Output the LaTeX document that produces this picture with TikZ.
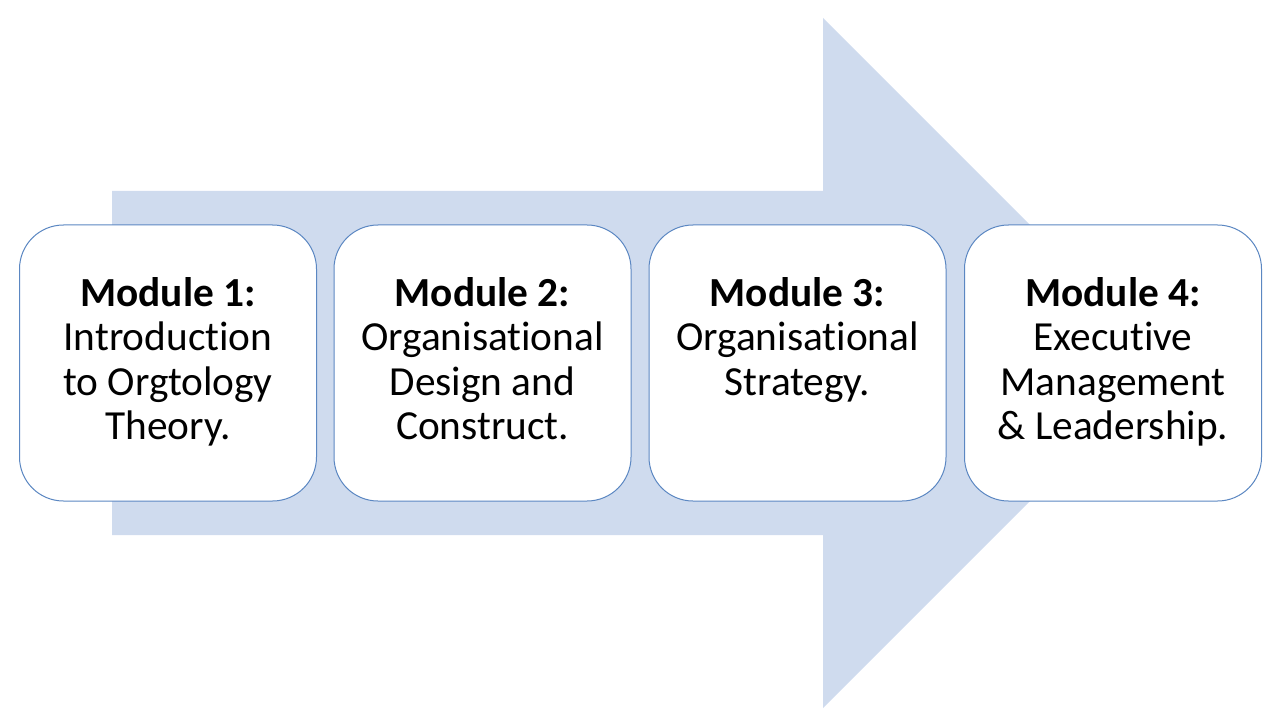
\documentclass[tikz,border=0pt]{standalone}
\usepackage{fontspec}
\setmainfont[Ligatures=NoCommon]{Carlito}
\usetikzlibrary{shapes,arrows,positioning}
\definecolor{arrowfill}{HTML}{CFDBEE}
\definecolor{boxline}{HTML}{5B87C2}

\begin{document}
\begin{tikzpicture}[x=0.75pt,y=-0.75pt]
             \tikzstyle{module} = [draw=boxline,fill=white,line width=0.75pt,rounded corners=33pt,minimum width=222.75pt,minimum height=207pt,inner sep=0pt]
             \tikzstyle{caption} = [anchor=north,align=center,inner sep=0pt,font=\fontsize{31}{33.4}\selectfont]
		\useasboundingbox (0,0) rectangle (1280,720);
		% Arrow
		\fill[arrowfill] (112,191) -- (823,191) -- (823,18) -- (1168,363) -- (823,708) -- (823,535) -- (112,535) -- cycle;
		% Module 1
		\node[module] at (168,363)(m1) {};
		\node[caption] at (168,277)(t1) {\textbf{Module 1:}\\Introduction\\to Orgtology\\Theory.};
		% Module 2
		\node[module] at (482.5,363)(m2) {};
		\node[caption] at (482.5,277)(t2) {\textbf{Module 2:}\\Organisational\\Design and\\Construct.};
		% Module 3
		\node[module] at (797.5,363)(m3) {};
		\node[caption] at (797.5,277)(t3) {\textbf{Module 3:}\\Organisational\\Strategy.};
		% Module 4
		\node[module] at (1113,363)(m4) {};
		\node[caption] at (1113,277)(t4) {\textbf{Module 4:}\\Executive\\Management\\\& Leadership.};
\end{tikzpicture}
\end{document}
